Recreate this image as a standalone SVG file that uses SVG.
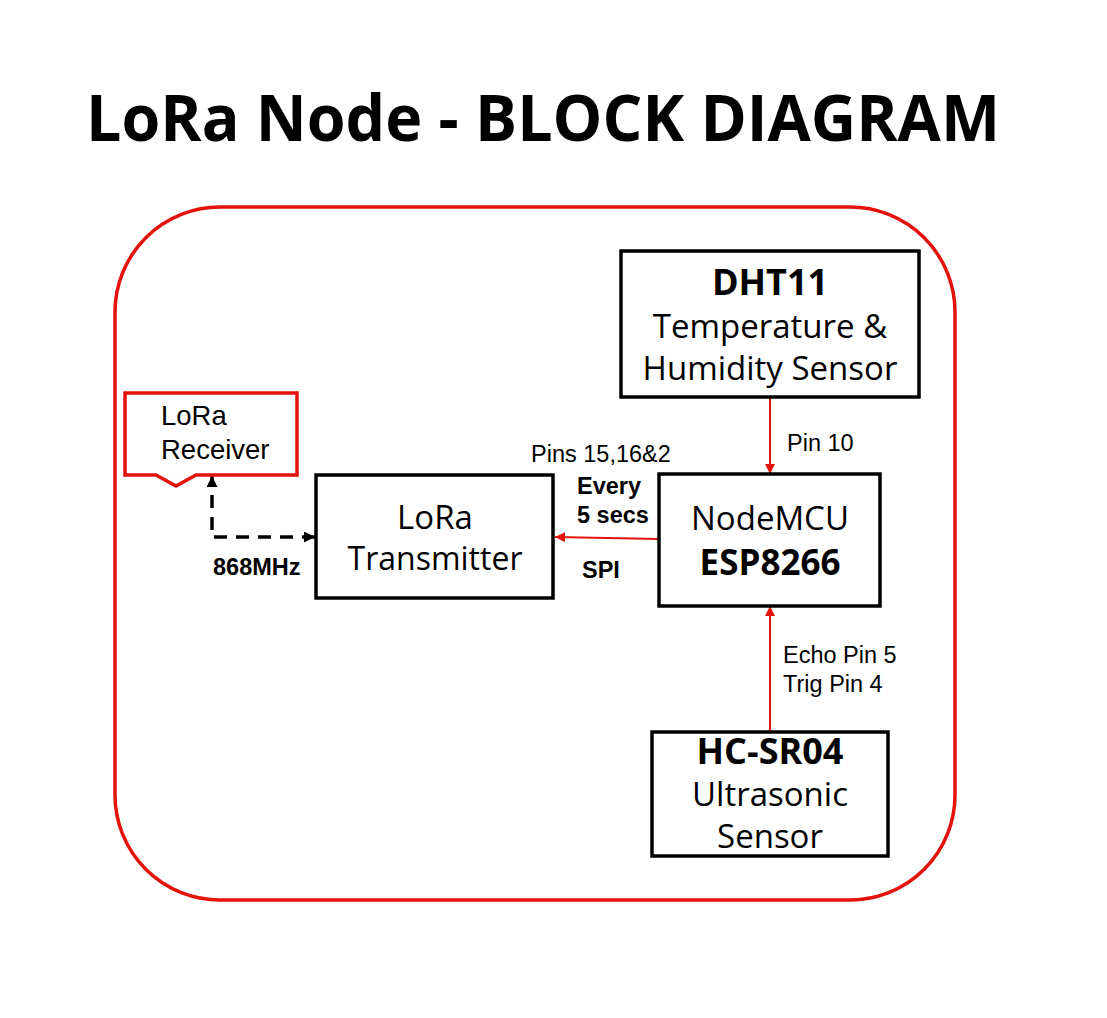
<svg xmlns="http://www.w3.org/2000/svg" width="1107" height="1018" viewBox="0 0 1107 1018">
<defs>
<style>
.box{fill:#fff;stroke:#000;stroke-width:3.5}
.t{font-family:"Open Sans","Noto Sans","DejaVu Sans",sans-serif;font-size:33px;fill:#000;text-anchor:middle}
.t.b{font-weight:bold;font-size:36px}
.lab{font-family:"Liberation Sans",Arial,sans-serif;font-size:23.5px;fill:#000}
.b{font-weight:bold}
.rcv{font-size:27.5px}
.red{stroke:#e3120b;fill:none}
</style>
<marker id="ar" viewBox="0 0 10 10" refX="10" refY="5" markerWidth="10" markerHeight="11" markerUnits="userSpaceOnUse" orient="auto">
<path d="M0,0 L10,5 L0,10 z" fill="#e3120b"/>
</marker>
<marker id="ak" viewBox="0 0 10 10" refX="10" refY="5" markerWidth="11" markerHeight="11" markerUnits="userSpaceOnUse" orient="auto-start-reverse">
<path d="M0,0 L10,5 L0,10 z" fill="#000"/>
</marker>
</defs>
<rect width="1107" height="1018" fill="#fff"/>
<text x="86" y="141" font-family="'Open Sans','Noto Sans',sans-serif" font-weight="bold" font-size="64" textLength="914" lengthAdjust="spacingAndGlyphs">LoRa Node - BLOCK DIAGRAM</text>
<g id="frame">
<rect x="115" y="207" width="840" height="693" rx="105" ry="105" class="red" stroke-width="3.5"/>
</g>
<g id="connectors">
<line x1="770" y1="398" x2="770" y2="474" class="red" stroke-width="2" marker-end="url(#ar)"/>
<line x1="770" y1="732" x2="770" y2="606" class="red" stroke-width="2" marker-end="url(#ar)"/>
<line x1="659" y1="539" x2="555" y2="537" class="red" stroke-width="2" marker-end="url(#ar)"/>
<path d="M315,537 L212,537 L212,476" fill="none" stroke="#000" stroke-width="3.5" stroke-dasharray="13,9" marker-start="url(#ak)" marker-end="url(#ak)"/>
</g>
<g id="receiver">
<path d="M125,393 L297,393 L297,475 L196,475 L176,486 L156,475 L125,475 Z" fill="#fff" stroke="#e3120b" stroke-width="3.5" stroke-linejoin="miter"/>
<text class="lab rcv" x="161" y="425">LoRa</text>
<text class="lab rcv" x="161" y="459">Receiver</text>
</g>
<g id="dht11">
<rect class="box" x="621" y="251" width="298" height="146"/>
<text class="t b" x="770" y="295">DHT11</text>
<text class="t" x="770" y="338">Temperature &amp;</text>
<text class="t" x="770" y="380">Humidity Sensor</text>
</g>
<g id="nodemcu">
<rect class="box" x="659" y="474" width="221" height="132"/>
<text class="t" x="770" y="530">NodeMCU</text>
<text class="t b" x="770" y="575" style="font-size:35px">ESP8266</text>
</g>
<g id="transmitter">
<rect class="box" x="316" y="475" width="237" height="123"/>
<text class="t" x="435" y="529">LoRa</text>
<text class="t" x="435" y="570" textLength="175" lengthAdjust="spacingAndGlyphs">Transmitter</text>
</g>
<g id="hcsr04">
<rect class="box" x="652" y="732" width="236" height="124"/>
<text class="t b" x="770" y="764">HC-SR04</text>
<text class="t" x="770" y="806">Ultrasonic</text>
<text class="t" x="770" y="848">Sensor</text>
</g>
<g id="labels">
<text class="lab" x="787" y="451">Pin 10</text>
<text class="lab" x="531" y="462">Pins 15,16&amp;2</text>
<text class="lab b" x="577" y="494">Every</text>
<text class="lab b" x="577" y="523">5 secs</text>
<text class="lab b" x="582" y="578">SPI</text>
<text class="lab b" x="213" y="575">868MHz</text>
<text class="lab" x="783" y="663">Echo Pin 5</text>
<text class="lab" x="783" y="692">Trig Pin 4</text>
</g>
</svg>
